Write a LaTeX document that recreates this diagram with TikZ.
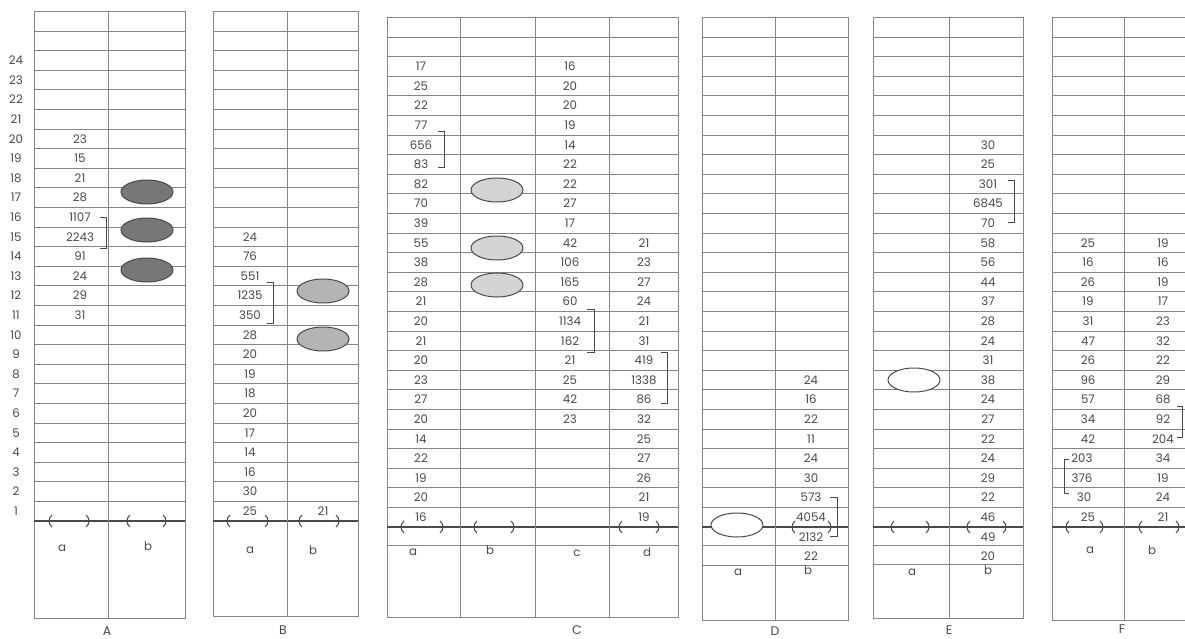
\documentclass[tikz,border=0pt]{standalone}
\usepackage{fontspec}
\setmainfont{Poppins}
\usetikzlibrary{shapes.geometric}
\definecolor{ink}{HTML}{4A4A4A}
\definecolor{gridc}{HTML}{858585}
\definecolor{darkfill}{HTML}{777777}
\definecolor{midfill}{HTML}{B4B4B4}
\definecolor{lightfill}{HTML}{D4D4D4}
\tikzset{
 gridline/.style={draw=gridc, line width=0.9pt},
 axisline/.style={draw=ink, line width=1.8pt},
 num/.style={text=ink, font=\fontsize{11.8}{13}\selectfont, inner sep=0pt},
 lab/.style={text=ink, font=\fontsize{11.8}{13}\selectfont, inner sep=0pt},
 ttl/.style={text=ink, font=\fontsize{12.5}{14}\selectfont, inner sep=0pt},
 brk/.style={draw=ink, line width=0.9pt},
 tk/.style={draw=ink, line width=1pt},
 spot/.style={ellipse, draw=ink, line width=1pt, minimum width=52pt, minimum height=24pt, inner sep=0pt},
}
% #1 left, #2 right, #3 axis, #4 bottom
\newcommand\panelgrid[4]{%
  \draw[gridline] (#1,{#3-26*19.6}) rectangle (#2,#4);
  \foreach \k in {1,...,25} \draw[gridline] (#1,{#3-\k*19.6}) -- (#2,{#3-\k*19.6});
  \draw[axisline] (#1,#3) -- (#2,#3);
}
% #1 x, #2 top, #3 bottom (column line)
\newcommand\colline[3]{\draw[gridline] (#1,#2) -- (#1,#3);}
% #1 name prefix, #2 x, #3 axis, #4 list row/value
\newcommand\putvals[4]{%
  \foreach \r/\v in {#4} \node[num] (#1\r) at (#2,{#3-(\r-0.5)*19.6}) {\v};
}
% bracket: #1 x, #2 top, #3 bottom, #4 tick length (signed)
\newcommand\rbrk[4]{\draw[brk] ({#1+#4},#2) -- (#1,#2) -- (#1,#3) -- ({#1+#4},#3);}
% axis ticks: #1 left x, #2 right x, #3 axis y
\newcommand\tickpair[3]{%
  \draw[tk] ({#1+2},{#3-6}) .. controls ({#1-2},{#3-3}) and ({#1-2},{#3+3}) .. ({#1+2},{#3+6});
  \draw[tk] ({#2-2},{#3-6}) .. controls ({#2+2},{#3-3}) and ({#2+2},{#3+3}) .. ({#2-2},{#3+6});
}
\begin{document}
\begin{tikzpicture}[x=1pt,y=-1pt]
\useasboundingbox (0,0) rectangle (1185,639);
\clip (0,0) rectangle (1185,639);
\fill[white] (0,0) rectangle (1185,639);

% ---------------- Panel A ----------------
\panelgrid{34}{185}{521}{618}
\colline{108}{11.4}{618}
\foreach \r in {1,...,24} \node[num] (Arow\r) at (16,{521-(\r-0.5)*19.6}) {\r};
\putvals{Aa}{80}{521}{20/23,19/15,18/21,17/28,16/1107,15/2243,14/91,13/24,12/29,11/31}
\rbrk{106}{217}{248}{-6}
\node[spot, fill=darkfill] (Ae1) at (147,192) {};
\node[spot, fill=darkfill] (Ae2) at (147,230) {};
\node[spot, fill=darkfill] (Ae3) at (147,270) {};
\tickpair{50}{88}{521}
\tickpair{128}{165}{521}
\node[lab] (Ala) at (62,548) {a};
\node[lab] (Alb) at (148,546) {b};
\node[ttl] (Atitle) at (107,631) {A};

% ---------------- Panel B ----------------
\panelgrid{213}{358}{521}{616}
\colline{287}{11.4}{616}
\putvals{Ba}{250}{521}{15/24,14/76,13/551,12/1235,11/350,10/28,9/20,8/19,7/18,6/20,5/17,4/14,3/16,2/30,1/25}
\putvals{Bb}{323}{521}{1/21}
\rbrk{273}{282}{323}{-6}
\node[spot, fill=midfill] (Be1) at (323,291) {};
\node[spot, fill=midfill] (Be2) at (323,339) {};
\tickpair{228}{267}{521}
\tickpair{300}{338}{521}
\node[lab] (Bla) at (250,550) {a};
\node[lab] (Blb) at (313,550) {b};
\node[ttl] (Btitle) at (283,630) {B};

% ---------------- Panel C ----------------
\panelgrid{387}{678}{527}{617}
\draw[gridline] (387,545) -- (678,545);
\colline{460}{17.4}{617}
\colline{535}{17.4}{617}
\colline{609}{17.4}{617}
\putvals{Ca}{421}{527}{24/17,23/25,22/22,21/77,20/656,19/83,18/82,17/70,16/39,15/55,14/38,13/28,12/21,11/20,10/21,9/20,8/23,7/27,6/20,5/14,4/22,3/19,2/20,1/16}
\putvals{Cc}{570}{527}{24/16,23/20,22/20,21/19,20/14,19/22,18/22,17/27,16/17,15/42,14/106,13/165,12/60,11/1134,10/162,9/21,8/25,7/42,6/23}
\putvals{Cd}{644}{527}{15/21,14/23,13/27,12/24,11/21,10/31,9/419,8/1338,7/86,6/32,5/25,4/27,3/26,2/21,1/19}
\rbrk{444}{131}{167}{-6}
\rbrk{594}{309}{352}{-7}
\rbrk{667}{352}{403}{-6}
\node[spot, fill=lightfill] (Ce1) at (497,190) {};
\node[spot, fill=lightfill] (Ce2) at (497,248) {};
\node[spot, fill=lightfill] (Ce3) at (497,285) {};
\tickpair{402}{442}{527}
\tickpair{475}{513}{527}
\tickpair{620}{658}{527}
\node[lab] (Cla) at (413,552) {a};
\node[lab] (Clb) at (490,550) {b};
\node[lab] (Clc) at (577,553) {c};
\node[lab] (Cld) at (647,552) {d};
\node[ttl] (Ctitle) at (577,630) {C};

% ---------------- Panel D ----------------
\panelgrid{702}{848}{527}{620}
\draw[gridline] (702,545) -- (848,545);
\draw[gridline] (702,565) -- (848,565);
\colline{775}{17.4}{620}
\putvals{Db}{811}{527}{8/24,7/16,6/22,5/11,4/24,3/30,2/573,1/4054,0/2132,-1/22}
\rbrk{837}{497}{536}{-7}
\node[spot, fill=white] (De1) at (737,525) {};
\tickpair{793}{830}{527}
\node[lab] (Dla) at (738,572) {a};
\node[lab] (Dlb) at (808,570) {b};
\node[ttl] (Dtitle) at (775,631) {D};

% ---------------- Panel E ----------------
\panelgrid{873}{1023}{527}{618}
\draw[gridline] (873,545) -- (1023,545);
\draw[gridline] (873,564) -- (1023,564);
\colline{949}{17.4}{618}
\putvals{Eb}{988}{527}{20/30,19/25,18/301,17/6845,16/70,15/58,14/56,13/44,12/37,11/28,10/24,9/31,8/38,7/24,6/27,5/22,4/24,3/29,2/22,1/46,0/49,-1/20}
\rbrk{1014}{180}{222}{-6}
\node[spot, fill=white] (Ee1) at (914,380) {};
\tickpair{892}{928}{527}
\tickpair{968}{1005}{527}
\node[lab] (Ela) at (912,572) {a};
\node[lab] (Elb) at (988,570) {b};
\node[ttl] (Etitle) at (949,630) {E};

% ---------------- Panel F ----------------
\panelgrid{1052}{1196}{527}{620}
\colline{1124}{17.4}{620}
\putvals{Fa}{1088}{527}{15/25,14/16,13/26,12/19,11/31,10/47,9/26,8/96,7/57,6/34,5/42,1/25}
\putvals{Fa}{1082}{527}{4/203,3/376}
\putvals{Fa}{1084}{527}{2/30}
\putvals{Fb}{1163}{527}{15/19,14/16,13/19,12/17,11/23,10/32,9/22,8/29,7/68,6/92,5/204,4/34,3/19,2/24,1/21}
\rbrk{1182}{406}{437}{-5}
\rbrk{1064}{459}{493}{5}
\tickpair{1067}{1102}{527}
\tickpair{1140}{1178}{527}
\node[lab] (Fla) at (1090,550) {a};
\node[lab] (Flb) at (1152,550) {b};
\node[ttl] (Ftitle) at (1122,629) {F};
\end{tikzpicture}
\end{document}
